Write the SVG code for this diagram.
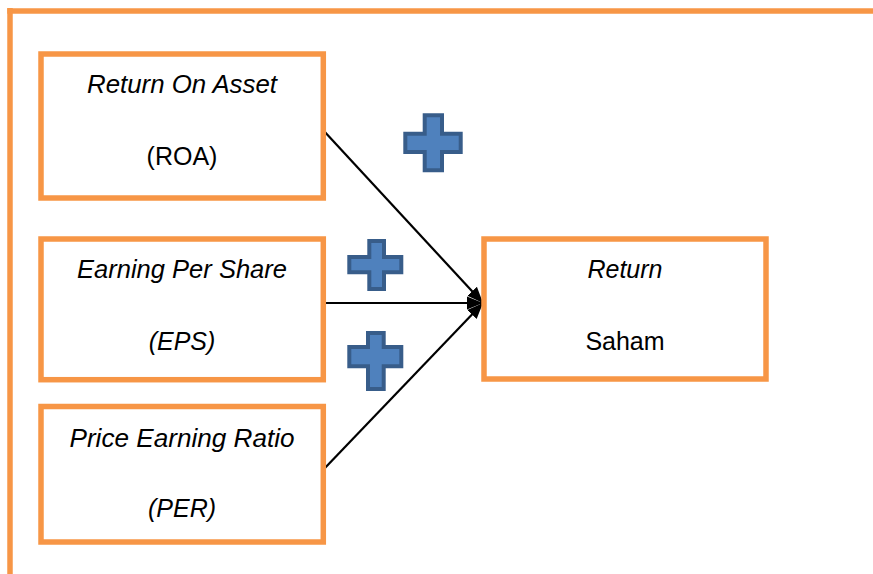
<svg xmlns="http://www.w3.org/2000/svg" width="873" height="574" viewBox="0 0 873 574">
<style>
.box{fill:#FFFFFF;stroke:#F79646;stroke-width:5.5}
.frame{fill:none;stroke:#F79646;stroke-width:5.5}
.t{font-family:"Liberation Sans",Arial,sans-serif;font-size:25px;fill:#000;text-anchor:middle}
.i{font-style:italic}
.plus{fill:#4F81BD;stroke:#385D8A;stroke-width:4;stroke-linejoin:miter}
.conn{stroke:#000;stroke-width:2.2;fill:none}
</style>
<defs>
<marker id="arr" markerUnits="userSpaceOnUse" markerWidth="18" markerHeight="16" refX="16" refY="8" orient="auto">
<path d="M0,1.5 L16,8 L0,14.5 Z" fill="#000"/>
</marker>
</defs>
<rect width="873" height="574" fill="#FFFFFF"/>
<g id="frame">
<line class="frame" x1="7.3" y1="11" x2="873" y2="11"/>
<line class="frame" x1="10" y1="8" x2="10" y2="574"/>
</g>
<g id="connectors">
<line class="conn" x1="323" y1="130" x2="483" y2="303" marker-end="url(#arr)"/>
<line class="conn" x1="323" y1="303" x2="483" y2="303" marker-end="url(#arr)"/>
<line class="conn" x1="323" y1="470" x2="483" y2="303" marker-end="url(#arr)"/>
</g>
<g id="roa">
<rect class="box" x="41" y="54" width="282.3" height="144"/>
<text class="t i" x="182" y="93" textLength="190" lengthAdjust="spacingAndGlyphs">Return On Asset</text>
<text class="t" x="182" y="165">(ROA)</text>
</g>
<g id="eps">
<rect class="box" x="41" y="239" width="282.3" height="140.7"/>
<text class="t i" x="182" y="278" textLength="210" lengthAdjust="spacingAndGlyphs">Earning Per Share</text>
<text class="t i" x="182" y="350">(EPS)</text>
</g>
<g id="per">
<rect class="box" x="41" y="406.5" width="282.3" height="135.5"/>
<text class="t i" x="182" y="446.5" textLength="225" lengthAdjust="spacingAndGlyphs">Price Earning Ratio</text>
<text class="t i" x="182" y="516.5">(PER)</text>
</g>
<g id="return">
<rect class="box" x="484" y="239" width="282" height="140"/>
<text class="t i" x="625" y="278">Return</text>
<text class="t" x="625" y="350">Saham</text>
</g>
<g id="plus1">
<path class="plus" d="M424.7,115.3 H442 V133.7 H460.7 V152 H442 V170.3 H424.7 V152 H405.3 V133.7 H424.7 Z"/>
</g>
<g id="plus2">
<path class="plus" d="M369.3,241 H384 V257 H401.3 V272.3 H384 V289 H369.3 V272.3 H349.3 V257 H369.3 Z"/>
</g>
<g id="plus3">
<path class="plus" d="M368,333 H383.7 V347 H401.3 V366.3 H383.7 V389 H368 V366.3 H349.3 V347 H368 Z"/>
</g>
</svg>
